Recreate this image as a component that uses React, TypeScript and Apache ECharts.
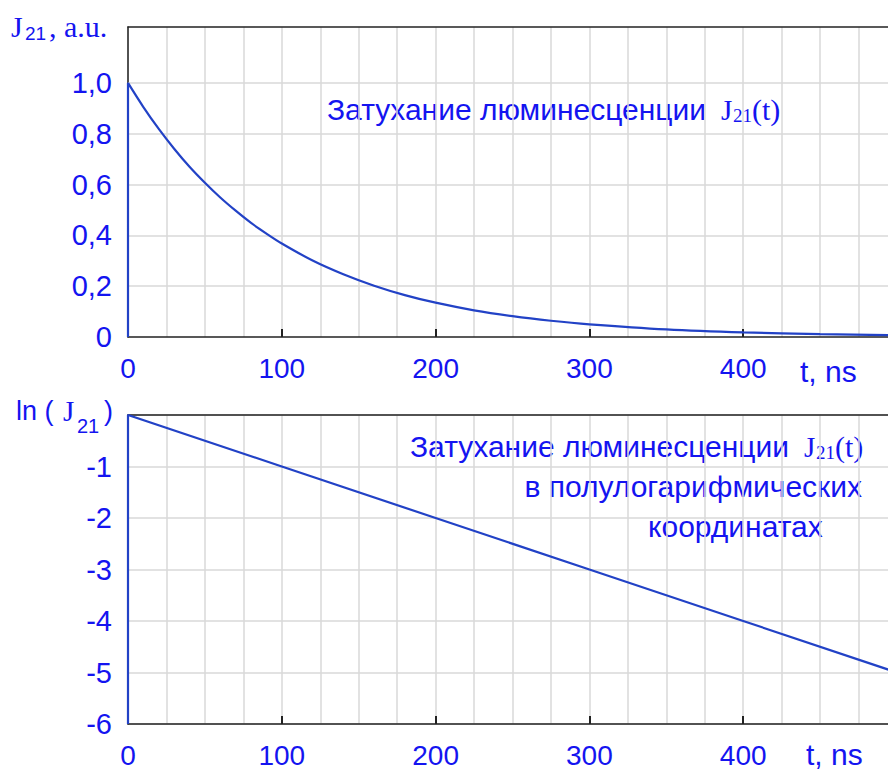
import React, { useEffect, useRef } from "react";
import * as echarts from "echarts";

// Luminescence decay J21(t), time in ns
const DECAY_T = [0, 0, 10, 20, 30, 40, 50, 60, 70, 80, 90, 100, 120, 140, 160, 180, 200, 225, 250, 275, 300, 350, 400, 450, 500];
const DECAY_J = [0, 1.0, 0.905, 0.819, 0.741, 0.67, 0.607, 0.549, 0.497, 0.449, 0.407, 0.368, 0.301, 0.247, 0.202, 0.165, 0.135, 0.105, 0.082, 0.064, 0.05, 0.03, 0.018, 0.011, 0.007];

// Same decay on a semi-log scale: ln(J21)
const LOG_T = [0, 0, 100, 200, 300, 400, 500];
const LOG_J = [-6, 0, -1, -2, -3, -4, -5];

// Horizontal grid lines of the upper panel
const TOP_GRID_Y = [0.2, 0.4, 0.6, 0.8, 1.0];

const BLUE = "#1414f0";
const CURVE = "#2242c6";
const GRID = "#d9d9d9";
const AXIS = "#222222";
const SANS = "'Liberation Sans', Arial, sans-serif";
const SERIF = "'Liberation Serif', 'Times New Roman', serif";

const txt = (x: number, y: number, text: string, size: number, family: string, align = "left") => ({
  type: "text",
  x,
  y,
  silent: true,
  style: { text, fontSize: size, fontFamily: family, fill: BLUE, align, verticalAlign: "middle" },
});

// "Затухание люминесценции J21(t)" with subscript indices
const titleRow = (x: number, y: number) => ({
  type: "group",
  x,
  y,
  children: [
    txt(0, 0, "Затухание люминесценции", 30, SANS),
    txt(394, 1, "J", 29, SERIF),
    txt(406, 6, "21", 19, SERIF),
    txt(425, 0, "(t)", 30, SERIF),
  ],
});

function xAxes(gridIndex: number) {
  return [
    {
      type: "value",
      gridIndex,
      min: 0,
      max: 500,
      interval: 100,
      axisLine: { show: true, onZero: false, lineStyle: { color: AXIS, width: 1.5 } },
      axisTick: { show: true, inside: true, length: 8, lineStyle: { color: AXIS, width: 2 } },
      axisLabel: {
        margin: 17,
        fontSize: 28,
        fontFamily: SANS,
        color: BLUE,
        formatter: (v: number) => (v < 500 ? String(v) : ""),
      },
      splitLine: { show: true, lineStyle: { color: GRID, width: 1.5 } },
      minorTick: { show: false, splitNumber: 4 },
      minorSplitLine: { show: true, lineStyle: { color: GRID, width: 1.5 } },
    },
    {
      type: "value",
      gridIndex,
      position: "top",
      min: 0,
      max: 500,
      axisLine: { show: true, onZero: false, lineStyle: { color: AXIS, width: 1.5 } },
      axisTick: { show: false },
      axisLabel: { show: false },
      splitLine: { show: false },
    },
  ];
}

export default function App() {
  const ref = useRef<HTMLDivElement>(null);

  useEffect(() => {
    if (!ref.current) return;
    const chart = echarts.init(ref.current, null, { renderer: "svg" });

    const decay = DECAY_T.map((t, i) => [t, DECAY_J[i]]);
    const semilog = LOG_T.map((t, i) => [t, LOG_J[i]]);

    chart.setOption({
      animation: false,
      backgroundColor: "#ffffff",
      grid: [
        { left: 128, right: 1, top: 27, height: 310 },
        { left: 128, right: 1, top: 415, height: 310 },
      ],
      xAxis: [...xAxes(0), ...xAxes(1)],
      yAxis: [
        {
          type: "value",
          gridIndex: 0,
          min: 0,
          max: 1.22,
          interval: 0.2,
          axisLine: { show: true, onZero: false, lineStyle: { color: AXIS, width: 1.5 } },
          axisTick: { show: false },
          splitLine: { show: false },
          axisLabel: {
            margin: 16,
            fontSize: 29,
            fontFamily: SANS,
            color: BLUE,
            padding: [7, 0, 0, 0],
            formatter: (v: number) => (v > 1.001 ? "" : v === 0 ? "0" : v.toFixed(1).replace(".", ",")),
          },
        },
        {
          type: "value",
          gridIndex: 1,
          min: -6,
          max: 0,
          interval: 1,
          axisLine: { show: true, onZero: false, lineStyle: { color: AXIS, width: 1.5 } },
          axisTick: { show: false },
          splitLine: { show: true, lineStyle: { color: GRID, width: 1.5 } },
          axisLabel: {
            margin: 16,
            fontSize: 29,
            fontFamily: SANS,
            color: BLUE,
            padding: [8, 0, 0, 0],
            formatter: (v: number) => (v === 0 ? "" : String(v)),
          },
        },
      ],
      series: [
        {
          type: "line",
          xAxisIndex: 0,
          yAxisIndex: 0,
          data: [],
          silent: true,
          z: 1,
          markLine: {
            silent: true,
            symbol: ["none", "none"],
            label: { show: false },
            lineStyle: { color: GRID, width: 1.5, type: "solid" },
            data: TOP_GRID_Y.map((y) => ({ yAxis: y })),
          },
        },
        {
          type: "line",
          xAxisIndex: 0,
          yAxisIndex: 0,
          data: decay,
          smooth: 0.3,
          showSymbol: false,
          z: 5,
          lineStyle: { color: CURVE, width: 2.2 },
        },
        {
          type: "line",
          xAxisIndex: 2,
          yAxisIndex: 1,
          data: semilog,
          showSymbol: false,
          z: 5,
          lineStyle: { color: CURVE, width: 2.2 },
        },
      ],
      graphic: [
        txt(11, 26, "J", 30, SERIF),
        txt(25, 33, "21", 19, SANS),
        txt(49, 26, ", a.u.", 30, SERIF),
        txt(16, 411, "ln (", 27, SANS),
        txt(63, 411, "J", 29, SERIF),
        txt(77, 426, "21", 20, SANS),
        txt(104, 411, ")", 27, SANS),
        txt(800, 371, "t, ns", 30, SANS),
        txt(806, 754, "t, ns", 30, SANS),
        titleRow(327, 109),
        titleRow(410, 446),
        txt(862, 486, "в полулогарифмических", 30, SANS, "right"),
        txt(648, 526, "координатах", 30, SANS),
      ],
    });

    return () => chart.dispose();
  }, []);

  return (
    <div style={{ position: "absolute", left: 0, top: 0, width: 888, height: 769, overflow: "hidden", background: "#fff" }}>
      <div ref={ref} style={{ width: 900, height: 769 }} />
    </div>
  );
}
